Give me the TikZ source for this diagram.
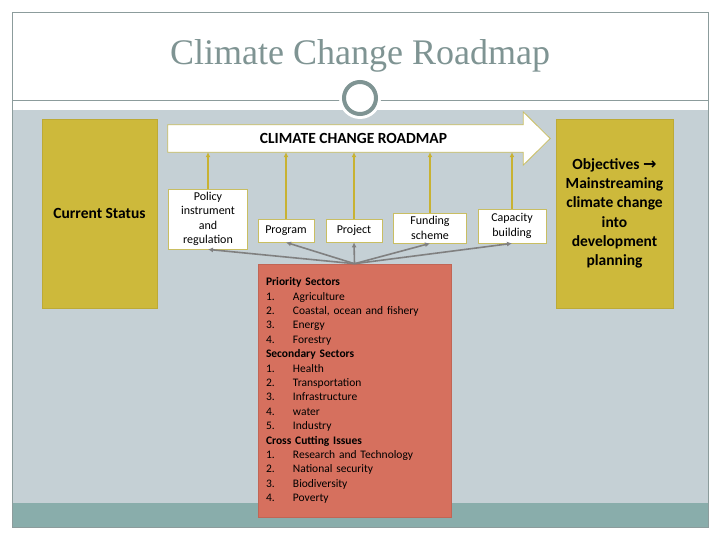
\documentclass[tikz,border=0pt]{standalone}
\usepackage{fontspec}
\setmainfont{Carlito}
\newfontfamily\titlefont{Liberation Serif}
\newfontfamily\symfont{DejaVu Sans}
\usetikzlibrary{arrows.meta,positioning,calc}
\definecolor{slate}{HTML}{C5D0D5}
\definecolor{bandteal}{HTML}{89ADAB}
\definecolor{mustard}{HTML}{CDB93B}
\definecolor{salmon}{HTML}{D6705E}
\definecolor{frameg}{HTML}{8C9C9C}
\definecolor{titleg}{HTML}{7F9493}
\definecolor{boxline}{HTML}{C9BE62}
\definecolor{uparrow}{HTML}{C8B232}
\definecolor{dnarrow}{HTML}{808080}
\newcommand{\numitem}[2]{\makebox[27pt][l]{#1}#2}

\begin{document}
\begin{tikzpicture}[x=1pt,y=-1pt,>=Latex,
    every node/.style={align=center,inner sep=1pt},
    goal/.style={fill=mustard,draw=mustard!92!black,line width=0.6pt,minimum width=115,minimum height=189,font=\fontsize{15.5}{19.3}\selectfont\bfseries},
    tool/.style={fill=white,draw=boxline,line width=0.8pt,font=\fontsize{12}{14.3}\selectfont},
    feed/.style={-{Latex[length=5pt,width=5pt]},uparrow,line width=1.8pt},
    link/.style={-{Latex[length=5pt,width=5pt]},dnarrow,line width=1.6pt}]
    \useasboundingbox (0,0) rectangle (720,540);
    \fill[white] (0,0) rectangle (720,540);
    % slide background
    \fill[slate] (12,110) rectangle (708,503);
    \fill[bandteal] (12,503) rectangle (708,527);
    \draw[frameg,line width=0.8pt] (12,12) rectangle (708,527);
    \draw[frameg,line width=0.8pt] (12,100) -- (708,100);
    \fill[white] (360,98) circle (21);
    \draw[titleg,line width=4pt] (360,98) circle (16);
    \node (tt) [text=titleg,font=\titlefont\fontsize{36}{40}\selectfont] at (360,56) {Climate Change Roadmap};
    % side boxes
    \node (cs) [goal] at (99.5,213.5) {Current Status};
    \node (ob) [goal,minimum width=117] at (614.5,213.5) {Objectives {\symfont\bfseries\fontsize{16}{19.3}\selectfont →}\\Mainstreaming\\climate change\\into\\development\\planning};
    % roadmap arrow
    \node (rm) [minimum width=382,minimum height=27,inner sep=0pt] at (359,138.5) {};
    \filldraw[fill=white,draw=boxline,line width=0.8pt] (rm.north west) -- ($(rm.north east)+(-27,0)$) -- ($(rm.north east)+(-27,-13)$) -- (rm.east)
      -- ($(rm.south east)+(-27,13)$) -- ($(rm.south east)+(-27,0)$) -- (rm.south west) -- cycle;
    \node (rmt) [font=\fontsize{15.5}{18}\selectfont\bfseries] at (353.5,138.5) {CLIMATE CHANGE ROADMAP};
    % instruments
    \node (pi) [tool,minimum width=79,minimum height=60] at (208,219) {Policy\\instrument\\and\\regulation};
    \node (pg) [tool,minimum width=56,minimum height=23] at (286,230.5) {Program};
    \node (pj) [tool,minimum width=56,minimum height=23] at (354,230.5) {Project};
    \node (fs) [tool,minimum width=73,minimum height=30] at (430,228) {Funding\\scheme};
    \node (cb) [tool,minimum width=68,minimum height=34] at (512,226) {Capacity\\building};
    % sectors
    \node (se) [fill=salmon,draw=salmon!90!black,line width=0.6pt,minimum width=193,minimum height=253,text width=177pt,inner xsep=8pt,align=left,font=\fontsize{11.5}{14.4}\selectfont] at (354.5,390.5) {%
      \textbf{Priority Sectors}\\
      \numitem{1.}{Agriculture}\\
      \numitem{2.}{Coastal, ocean and fishery}\\
      \numitem{3.}{Energy}\\
      \numitem{4.}{Forestry}\\
      \textbf{Secondary Sectors}\\
      \numitem{1.}{Health}\\
      \numitem{2.}{Transportation}\\
      \numitem{3.}{Infrastructure}\\
      \numitem{4.}{water}\\
      \numitem{5.}{Industry}\\
      \textbf{Cross Cutting Issues}\\
      \numitem{1.}{Research and Technology}\\
      \numitem{2.}{National security}\\
      \numitem{3.}{Biodiversity}\\
      \numitem{4.}{Poverty}};
    \foreach \b in {pi,pg,pj,fs,cb} \draw[feed] (\b.north) -- (\b.north |- rm.south);
    \foreach \b in {pi,pg,pj,fs,cb} \draw[link] (se.north) -- (\b.south);
\end{tikzpicture}
\end{document}
